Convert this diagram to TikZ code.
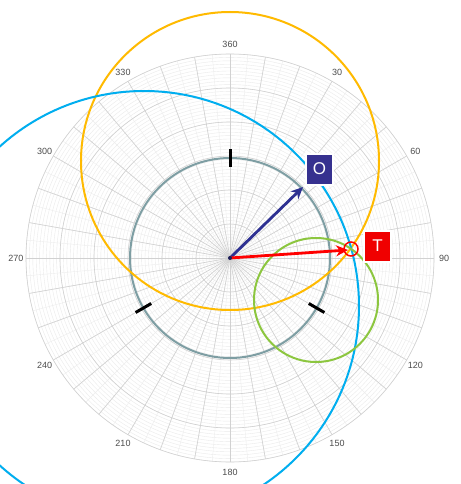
\documentclass[tikz,border=0pt]{standalone}
\usepackage{fontspec}
\setmainfont{Liberation Sans}
\usetikzlibrary{arrows.meta,shadows}
\definecolor{ringgray}{HTML}{7E9EA3}
\definecolor{orangec}{HTML}{FFBA00}
\definecolor{bluec}{HTML}{00AEEF}
\definecolor{greenc}{HTML}{8CC63F}
\definecolor{navyc}{HTML}{2E3192}
\definecolor{navybox}{HTML}{36318F}
\definecolor{redc}{HTML}{FF0000}
\definecolor{redbox}{HTML}{F00000}
\tikzset{
  minorring/.style={draw=black!8,line width=0.4pt},
  majorring/.style={draw=black!18,line width=0.6pt},
  minorspoke/.style={draw=black!7,line width=0.4pt},
  majorspoke/.style={draw=black!18,line width=0.6pt},
  anglabel/.style={text=black!70,font=\fontsize{9}{9}\selectfont,inner sep=0pt},
  bigcircle/.style={line width=2pt},
  tickmark/.style={draw=black,line width=3pt},
  vector/.style={line width=2.8pt,-{Stealth[length=12pt,width=11pt]}},
  tag/.style={draw=white,line width=2pt,text=white,minimum width=27pt,minimum height=31pt,inner sep=0pt,
    font=\fontsize{17}{17}\selectfont,drop shadow={opacity=0.35,shadow xshift=1.2pt,shadow yshift=-1.2pt}}
}
\begin{document}
\begin{tikzpicture}[x=1pt,y=-1pt]
\useasboundingbox (0,0) rectangle (460,484);
\fill[white] (0,0) rectangle (460,484);
\coordinate (c) at (230,258);
% grid
\foreach \i in {1,...,60}{\draw[minorring] (c) circle[radius=\i*3.4pt];}
\foreach \a in {0,5,...,355}{\draw[minorspoke] (c) -- ({230+204*sin(\a)},{258-204*cos(\a)});}
\foreach \a in {0,10,...,350}{\draw[majorspoke] (c) -- ({230+204*sin(\a)},{258-204*cos(\a)});}
\foreach \i in {1,...,6}{\draw[majorring] (c) circle[radius=\i*34pt];}
\foreach \a/\t in {0/360,30/30,60/60,90/90,120/120,150/150,180/180,210/210,240/240,270/270,300/300,330/330}{
  \node[anglabel] (lab\a) at ({230+214*sin(\a)},{258-214*cos(\a)}) {\t};}
% circles
\draw[bigcircle,draw=ringgray] (c) circle[radius=100pt];
\draw[bigcircle,draw=orangec] (230,161) circle[radius=149pt];
\draw[bigcircle,draw=bluec] (144,306) circle[radius=215pt];
\draw[bigcircle,draw=greenc] (316,300) circle[radius=62pt];
% ticks
\foreach \a in {0,120,240}{
  \draw[tickmark] ({230+91*sin(\a)},{258-91*cos(\a)}) -- ({230+109*sin(\a)},{258-109*cos(\a)});}
% vectors
\coordinate (otip) at (303,187);
\coordinate (ttip) at (348,250);
\draw[vector,draw=navyc,fill=navyc] (c) -- (otip);
\draw[vector,draw=redc,fill=redc] (c) -- (ttip);
\node[circle,draw=redc,line width=1.5pt,minimum size=14pt,inner sep=0pt] (tcirc) at (351,249) {};
\fill[navyc!60!black] (c) circle[radius=2pt];
% tags
\node[tag,fill=navybox] (O) at (319.5,169) {O};
\node[tag,fill=redbox] (T) at (377.5,246) {T};
\end{tikzpicture}
\end{document}
